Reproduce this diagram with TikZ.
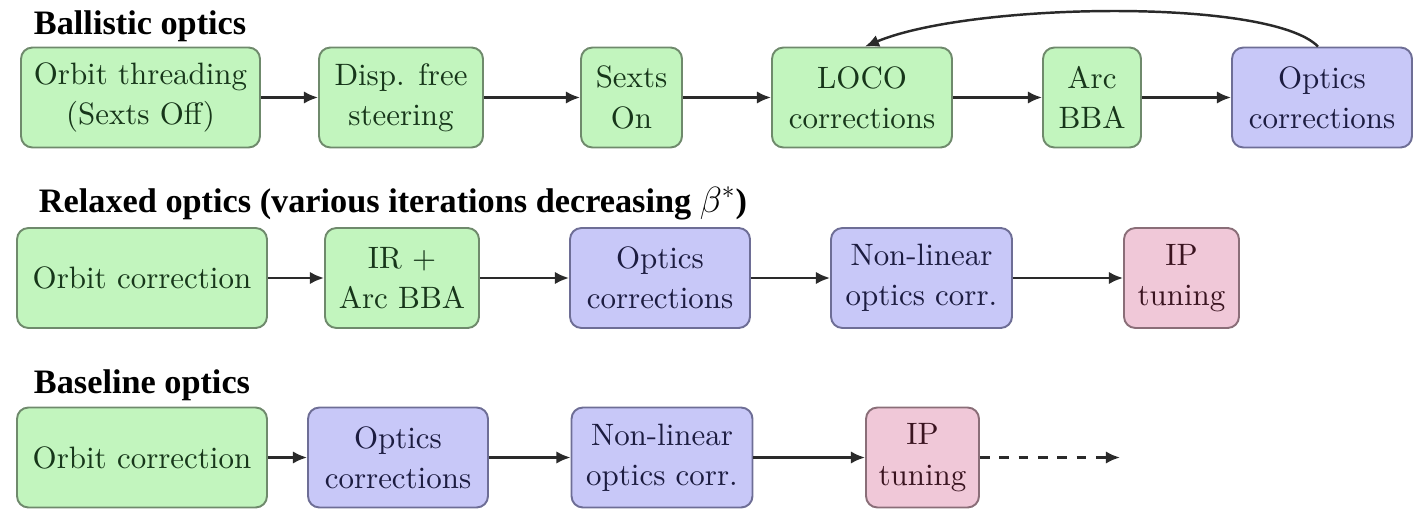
\documentclass[tikz,border=0pt]{standalone}
\usepackage{fontspec}
\setmainfont{Liberation Serif}
\newfontfamily\stagefont{lmroman10-regular.otf}
\usetikzlibrary{arrows.meta}
\definecolor{fgreen}{HTML}{C2F5BE}
\definecolor{sgreen}{HTML}{6F8A6C}
\definecolor{tgreen}{HTML}{17361A}
\definecolor{fblue}{HTML}{C8C8F8}
\definecolor{sblue}{HTML}{6E6E96}
\definecolor{tblue}{HTML}{1C1C40}
\definecolor{fpink}{HTML}{F0C8D8}
\definecolor{spink}{HTML}{8A6E78}
\definecolor{tpink}{HTML}{3A1420}
\definecolor{sarrow}{HTML}{2A2A2A}

\begin{document}
\begin{tikzpicture}[line width=1.1pt,
  stage/.style={rounded corners=6.5pt,minimum height=2.0cm,inner sep=0pt,align=center,font=\stagefont\fontsize{17.6}{23}\selectfont},
  gstage/.style={stage,fill=fgreen,draw=sgreen,text=tgreen},
  bstage/.style={stage,fill=fblue,draw=sblue,text=tblue},
  pstage/.style={stage,fill=fpink,draw=spink,text=tpink},
  flow/.style={draw=sarrow,line width=1.4pt,-{Latex[length=8pt,width=7pt]}},
  rowtitle/.style={anchor=base west,inner sep=0pt,font=\fontsize{19.5}{23}\selectfont\bfseries}]
\useasboundingbox (0,0) rectangle (28.42,-10.28);
% ballistic optics
\node[rowtitle] (tball) at (0.66,-0.70) {Ballistic optics};
\node[gstage,minimum width=4.78cm] (thread) at (2.81,-1.95) {Orbit threading\\(Sexts Off)};
\node[gstage,minimum width=3.28cm] (dfs) at (8.02,-1.95) {Disp. free\\steering};
\node[gstage,minimum width=2.02cm] (sexon) at (12.63,-1.95) {Sexts\\On};
\node[gstage,minimum width=3.60cm] (loco) at (17.24,-1.95) {LOCO\\corrections};
\node[gstage,minimum width=1.96cm] (arcbba) at (21.84,-1.95) {Arc\\BBA};
\node[bstage,minimum width=3.60cm] (optball) at (26.44,-1.95) {Optics\\corrections};
\draw[flow] (thread.east) -- (dfs.west);
\draw[flow] (dfs.east) -- (sexon.west);
\draw[flow] (sexon.east) -- (loco.west);
\draw[flow] (loco.east) -- (arcbba.west);
\draw[flow] (arcbba.east) -- (optball.west);
\draw[flow] ([xshift=-0.08cm]optball.north) .. controls (25.4,0.05) and (19.4,-0.05) .. ([xshift=0.06cm]loco.north);
% relaxed optics
\node[rowtitle] (trelax) at (0.76,-4.24) {Relaxed optics (various iterations decreasing $\beta^*$)};
\node[gstage,minimum width=5.00cm] (orbrel) at (2.84,-5.56) {Orbit correction};
\node[gstage,minimum width=3.08cm] (irbba) at (8.04,-5.56) {IR +\\Arc BBA};
\node[bstage,minimum width=3.60cm] (optrel) at (13.20,-5.56) {Optics\\corrections};
\node[bstage,minimum width=3.62cm] (nlrel) at (18.43,-5.56) {Non-linear\\optics corr.};
\node[pstage,minimum width=2.30cm] (iprel) at (23.63,-5.56) {IP\\tuning};
\draw[flow] (orbrel.east) -- (irbba.west);
\draw[flow] (irbba.east) -- (optrel.west);
\draw[flow] (optrel.east) -- (nlrel.west);
\draw[flow] (nlrel.east) -- (iprel.west);
% baseline optics
\node[rowtitle] (tbase) at (0.66,-7.86) {Baseline optics};
\node[gstage,minimum width=5.00cm] (orbbase) at (2.84,-9.15) {Orbit correction};
\node[bstage,minimum width=3.60cm] (optbase) at (7.96,-9.15) {Optics\\corrections};
\node[bstage,minimum width=3.62cm] (nlbase) at (13.24,-9.15) {Non-linear\\optics corr.};
\node[pstage,minimum width=2.26cm] (ipbase) at (18.45,-9.15) {IP\\tuning};
\coordinate (nextstep) at (22.40,-9.15);
\draw[flow] (orbbase.east) -- (optbase.west);
\draw[flow] (optbase.east) -- (nlbase.west);
\draw[flow] (nlbase.east) -- (ipbase.west);
\draw[flow,dash pattern=on 5.5pt off 5.5pt] (ipbase.east) -- (nextstep);
\end{tikzpicture}
\end{document}
